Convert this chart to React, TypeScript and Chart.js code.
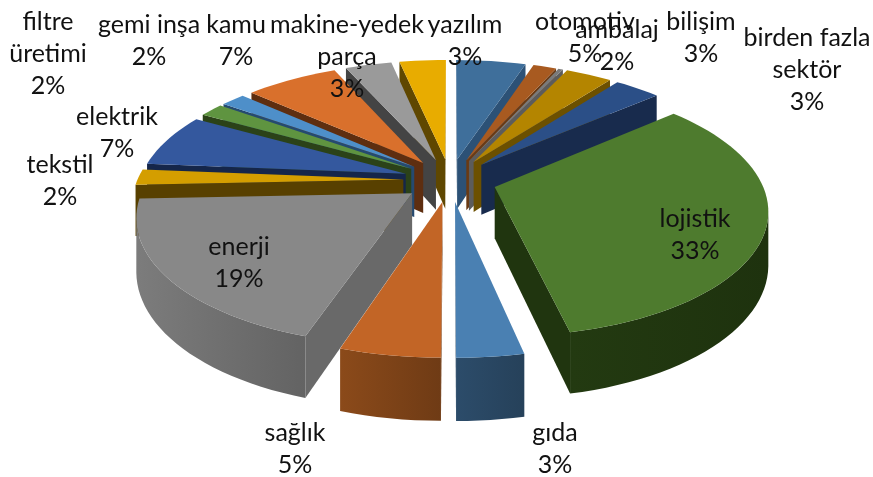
import React, { useEffect, useRef } from "react";
import { Chart, registerables } from "chart.js";

Chart.register(...registerables);

// clockwise from 12 o'clock
const categoryLines: string[][] = [
  ["otomotiv"], ["ambalaj"], [], ["bilişim"], ["birden fazla", "sektör"], ["lojistik"], ["gıda"], ["sağlık"],
  ["enerji"], ["tekstil"], ["elektrik"], ["filtre", "üretimi"], ["gemi inşa"], ["kamu"], ["makine-yedek", "parça"], ["yazılım"],
];
const categories = categoryLines.map((l) => l.join(" "));
const values = [3, 1, 0.2, 2, 2, 19.8, 2, 3, 11.6, 1.2, 4.1, 1.05, 1.05, 4, 2, 2];
const topColors = [
  "#3F6F9B", "#A85A20", "#7A7A7A", "#B48500", "#2B4F87", "#4E7B2E", "#4A80B2", "#C26526",
  "#888888", "#D49E00", "#34589E", "#5F9440", "#4E8FC9", "#D9702C", "#9A9A9A", "#E8AC00",
];
const wallColors = [
  "#2C5176", "#6A3A14", "#5C5C5C", "#6C5000", "#182B4D", "#20350F", "#284560", "#763F16",
  "#696969", "#584000", "#15264A", "#2B4218", "#254A70", "#5E2E10", "#444444", "#5F4700",
];
// label anchors: [centre x, first-line centre y]
const labelAnchors: [number, number][] = [
  [585, 22], [617, 30], [0, 0], [701, 22], [807, 38], [695, 219], [555, 433], [295, 433],
  [239, 247], [60, 165], [117, 117], [48, 22], [149, 25], [236, 25], [347, 25], [465, 25],
];

const CX = 450, CY = 180, RX = 266, RY = 122, K = 0.165, DEPTH = 51;
const LINE = 32;

const project = (u: number, v: number, z = 0): [number, number] => {
  const w = 1 / (1 - K * v);
  return [CX + RX * u * w, CY + RY * v * w + DEPTH * z * w];
};

const shade = (hex: string, f: number) => {
  const n = parseInt(hex.slice(1), 16);
  const c = [(n >> 16) & 255, (n >> 8) & 255, n & 255].map((x) => Math.max(0, Math.min(255, Math.round(x * f))));
  return `rgb(${c[0]},${c[1]},${c[2]})`;
};

const pie3d = {
  id: "pie3d",
  beforeDatasetsDraw(chart: any) {
    const { ctx } = chart;
    const arcs = chart.getDatasetMeta(0).data as any[];
    const slices = arcs.map((el, i) => {
      const mid = (el.startAngle + el.endAngle) / 2;
      const e = el.options.offset / el.outerRadius;
      const ou = Math.cos(mid) * e, ov = Math.sin(mid) * e;
      const n = Math.max(2, Math.ceil((el.endAngle - el.startAngle) / 0.04));
      const pts: { u: number; v: number; a: number }[] = [];
      for (let k = 0; k <= n; k++) {
        const a = el.startAngle + ((el.endAngle - el.startAngle) * k) / n;
        pts.push({ u: ou + Math.cos(a), v: ov + Math.sin(a), a });
      }
      return { i, ou, ov, pts, mv: ov + Math.sin(mid) * 0.6, top: el.options.backgroundColor, wall: el.options.borderColor };
    });
    slices.sort((a, b) => a.mv - b.mv);

    ctx.save();
    for (const s of slices) {
      const poly = [{ u: s.ou, v: s.ov, a: NaN }, ...s.pts];
      const N = poly.length;
      // radial side faces
      for (let j = 0; j < N; j++) {
        const P = poly[j], Q = poly[(j + 1) % N];
        if (!isNaN(P.a) && !isNaN(Q.a)) continue;
        const p = project(P.u, P.v), q = project(Q.u, Q.v);
        if (q[0] >= p[0]) continue;
        const p2 = project(P.u, P.v, 1), q2 = project(Q.u, Q.v, 1);
        ctx.beginPath();
        ctx.moveTo(p[0], p[1]);
        ctx.lineTo(q[0], q[1]);
        ctx.lineTo(q2[0], q2[1]);
        ctx.lineTo(p2[0], p2[1]);
        ctx.closePath();
        ctx.fillStyle = s.wall;
        ctx.fill();
      }
      // outer rim as a single band with a horizontal gradient
      const vis = s.pts.filter((P, j) => {
        const Q = s.pts[j + 1], O = s.pts[j - 1];
        const xP = project(P.u, P.v)[0];
        return (Q && project(Q.u, Q.v)[0] < xP) || (O && xP < project(O.u, O.v)[0]);
      });
      if (vis.length > 1) {
        const up = vis.map((P) => project(P.u, P.v));
        const lo = vis.map((P) => project(P.u, P.v, 1));
        const xs = up.map((p) => p[0]);
        const x0 = Math.min(...xs), x1 = Math.max(...xs);
        const g = ctx.createLinearGradient(x0, 0, Math.max(x1, x0 + 1), 0);
        g.addColorStop(0, shade(s.wall, x0 < CX - 60 ? 1.18 : 1.1));
        g.addColorStop(1, shade(s.wall, 0.94));
        ctx.beginPath();
        up.forEach((p, j) => (j ? ctx.lineTo(p[0], p[1]) : ctx.moveTo(p[0], p[1])));
        lo.reverse().forEach((p) => ctx.lineTo(p[0], p[1]));
        ctx.closePath();
        ctx.fillStyle = g;
        ctx.fill();
      }
      ctx.beginPath();
      poly.forEach((P, j) => {
        const p = project(P.u, P.v);
        if (j === 0) ctx.moveTo(p[0], p[1]);
        else ctx.lineTo(p[0], p[1]);
      });
      ctx.closePath();
      ctx.fillStyle = s.top;
      ctx.fill();
    }
    ctx.restore();
    return false;
  },
  afterDraw(chart: any) {
    const { ctx } = chart;
    const total = values.reduce((a, b) => a + b, 0);
    ctx.save();
    ctx.font = '25px Lato, "Open Sans", sans-serif';
    ctx.fillStyle = "#111111";
    ctx.textAlign = "center";
    ctx.textBaseline = "middle";
    categoryLines.forEach((lines, i) => {
      if (!lines.length) return;
      const [x, y] = labelAnchors[i];
      const all = [...lines, `${Math.round((values[i] / total) * 100)}%`];
      all.forEach((t, k) => ctx.fillText(t, x, y + k * LINE));
    });
    ctx.restore();
  },
};

export default function App() {
  const ref = useRef<HTMLCanvasElement>(null);
  useEffect(() => {
    document.body.style.margin = "0";
    document.body.style.background = "#ffffff";
    const chart = new Chart(ref.current!, {
      type: "pie",
      data: {
        labels: categories,
        datasets: [
          {
            data: values,
            backgroundColor: topColors,
            borderColor: wallColors,
            borderWidth: 0,
            offset: 38.5,
          },
        ],
      },
      options: {
        responsive: false,
        animation: false,
        events: [],
        layout: { padding: 0 },
        plugins: { legend: { display: false }, tooltip: { enabled: false } },
      },
      plugins: [pie3d],
    } as any);
    return () => chart.destroy();
  }, []);
  return <canvas ref={ref} width={873} height={477} style={{ display: "block" }} />;
}
